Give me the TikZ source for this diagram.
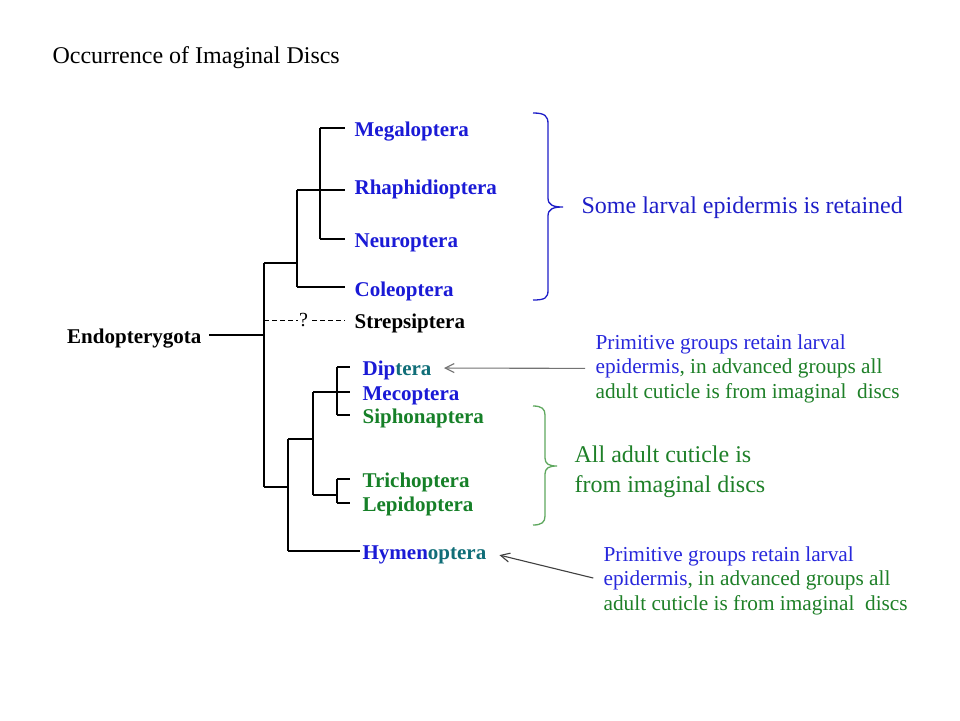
\documentclass[tikz,border=0pt]{standalone}
\usepackage{fontspec}
\setmainfont{Liberation Serif}
\usepackage{xcolor}
\usetikzlibrary{arrows.meta}

\definecolor{taxblue}{RGB}{26,26,214}
\definecolor{taxgreen}{RGB}{22,128,40}
\definecolor{taxteal}{RGB}{16,110,120}
\definecolor{braceblue}{RGB}{30,30,200}
\definecolor{bracegreen}{RGB}{95,168,95}
\definecolor{noteblue}{RGB}{40,40,220}
\definecolor{notegreen}{RGB}{30,128,40}

\begin{document}
\begin{tikzpicture}[x=1pt,y=-1pt,line width=1.2pt,
	taxon/.style={anchor=west,inner sep=0pt,text height=14pt,text depth=0pt,font=\bfseries\fontsize{21}{24}\selectfont},
	note/.style={anchor=base west,inner sep=0pt,align=left,font=\fontsize{21.3}{24.5}\selectfont},
	pointer/.style={-{Straight Barb[length=9pt,width=9pt]},line width=1.1pt}]
			\useasboundingbox[fill=white] (0,0) rectangle (960,720);
			\node[anchor=base west,inner sep=0pt,font=\fontsize{24}{28}\selectfont] (title) at (52,63) {Occurrence of Imaginal Discs};
			% junctions of the tree
			\coordinate[] (r) at (264,335);
			\coordinate[] (rt) at (264,263);
			\coordinate[] (rb) at (264,487);
			\coordinate[] (s) at (264,320);
			\coordinate[] (a) at (297,263);
			\coordinate[] (a1) at (297,190);
			\coordinate[] (a2) at (297,287);
			\coordinate[] (b1) at (320,128);
			\coordinate[] (b2) at (320,239);
			\coordinate[] (c) at (288,487);
			\coordinate[] (c1) at (288,439);
			\coordinate[] (c2) at (288,551);
			\coordinate[] (d) at (313,439);
			\coordinate[] (d1) at (313,392);
			\coordinate[] (d2) at (313,495);
			\coordinate[] (e1) at (337,367);
			\coordinate[] (e2) at (337,415);
			\coordinate[] (f) at (337,495);
			\coordinate[] (f1) at (337,479);
			\coordinate[] (f2) at (337,503);
			% taxa
			\node[taxon,anchor=east] (endo) at (202,336) {Endopterygota};
			\node[taxon,text=taxblue] (mega) at (354,129) {Megaloptera};
			\node[taxon,text=taxblue] (rhaph) at (354,187) {Rhaphidioptera};
			\node[taxon,text=taxblue] (neuro) at (354,240) {Neuroptera};
			\node[taxon,text=taxblue] (coleo) at (354,289) {Coleoptera};
			\node[taxon] (streps) at (354,321) {Strepsiptera};
			\node[taxon] (dipt) at (362,368) {\color{taxblue}Dip\color{taxteal}tera};
			\node[taxon,text=taxblue] (meco) at (362,393) {Mecoptera};
			\node[taxon,text=taxgreen] (siph) at (362,416) {Siphonaptera};
			\node[taxon,text=taxgreen] (trich) at (362,480) {Trichoptera};
			\node[taxon,text=taxgreen] (lepid) at (362,504) {Lepidoptera};
			\node[taxon] (hymen) at (362,552) {\color{taxblue}Hymen\color{taxteal}optera};
			\draw[shorten <=7pt] (r -| endo.east) -- (r);
			\draw (rt) -- (rb);
			\draw (rt) -- (a);
			\draw (a1) -- (a2);
			\draw (b1) -- (b2);
			\draw (rb) -- (c);
			\draw (c1) -- (c2);
			\draw (c1) -- (d);
			\draw (d1) -- (d2);
			\draw (e1) -- (e2);
			\draw (d2) -- (f);
			\draw (f1) -- (f2);
			\foreach \from/\to/\gap in {b1/mega/9pt,a1/rhaph/9pt,b2/neuro/9pt,a2/coleo/9pt,e1/dipt/12pt,d1/meco/12pt,e2/siph/12pt,f1/trich/12pt,f2/lepid/12pt,c2/hymen/2pt}
				\draw[shorten >=\gap] (\from) -- (\from -| \to.west);
			\draw[line width=0.9pt,dash pattern=on 5pt off 3pt,shorten >=9pt] (s) -- node[pos=0.44,fill=white,inner sep=1.5pt,font=\fontsize{20}{20}\selectfont] (qm) {?} (s -| streps.west);
			% braces and notes
			\draw[braceblue,line width=1.3pt] (533,113) .. controls (545,113) and (548,116) .. (548,124) -- (548,198) .. controls (548,205) and (553,207) .. (563,207) .. controls (553,207) and (548,209) .. (548,216) -- (548,290) .. controls (548,298) and (545,300) .. (533,300);
			\draw[bracegreen,line width=1.3pt] (533,406) .. controls (542,406) and (545,409) .. (545,415) -- (545,458) .. controls (545,464) and (549,466) .. (557,466) .. controls (549,466) and (545,468) .. (545,474) -- (545,516) .. controls (545,522) and (542,525) .. (533,525);
			\node[anchor=base west,inner sep=0pt,text=braceblue,font=\fontsize{24}{28}\selectfont] (retain) at (581,213) {Some larval epidermis is retained};
			\node[anchor=base west,inner sep=0pt,align=left,text=notegreen,font=\fontsize{24}{30}\selectfont] (allcut) at (574,492) {All adult cuticle is\\from imaginal discs};
			\node[note,text=notegreen] (note1) at (595,398) {\textcolor{noteblue}{Primitive groups retain larval}\\\textcolor{noteblue}{epidermis}, in advanced groups all\\adult cuticle is from imaginal\ \ discs};
			\node[note,text=notegreen] (note2) at (603,610) {\textcolor{noteblue}{Primitive groups retain larval}\\\textcolor{noteblue}{epidermis}, in advanced groups all\\adult cuticle is from imaginal\ \ discs};
			\draw[pointer,black!55,shorten <=10pt,shorten >=12pt] (note1.west) -- (dipt.east);
			\draw[pointer,black!75,shorten <=10pt,shorten >=13pt] (note2.west) -- (hymen.east);
		\end{tikzpicture}
\end{document}
